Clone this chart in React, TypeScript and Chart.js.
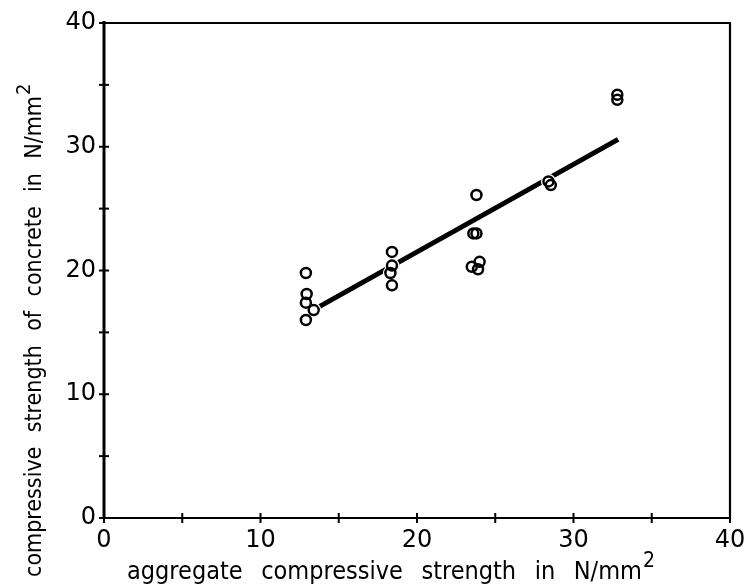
import React, { useEffect, useRef } from "react";
import { Chart, registerables } from "chart.js";

Chart.register(...registerables);

const pointX = [12.9, 12.95, 12.9, 13.4, 12.9, 18.4, 18.4, 18.3, 18.4, 23.8, 23.6, 23.8, 23.5, 23.9, 24.0, 28.4, 28.55, 32.8, 32.8];
const pointY = [19.8, 18.1, 17.4, 16.8, 16.0, 21.5, 20.4, 19.8, 18.8, 26.1, 23.0, 23.0, 20.3, 20.1, 20.7, 27.2, 26.9, 34.2, 33.8];
const lineX = [13.5, 32.85];
const lineY = [16.9, 30.6];
const axisMin = 0;
const axisMax = 40;
const xTitleWords = ["aggregate", "compressive", "strength", "in", "N/mm"];
const yTitleWords = ["compressive", "strength", "of", "concrete", "in", "N/mm"];
const unitSup = "2";

const FONT = '"DejaVu Sans", sans-serif';
const TITLE_FONT = '"DejaVu Sans Condensed", "DejaVu Sans", sans-serif';

function drawSpread(ctx: any, words: string[], start: number, end: number, base: number) {
  const widths = words.map((w) => ctx.measureText(w).width);
  const total = widths.reduce((a, b) => a + b, 0);
  const gap = (end - start - total) / (words.length - 1);
  let pos = start;
  words.forEach((w, i) => {
    ctx.fillText(w, pos, base);
    pos += widths[i] + gap;
  });
  return pos - gap;
}

const framePlugin = {
  id: "frame",
  afterDraw(chart: any) {
    const { ctx, chartArea, scales } = chart;
    const x = scales.x;
    const y = scales.y;
    ctx.save();
    ctx.strokeStyle = "#000";
    ctx.lineCap = "butt";
    ctx.lineWidth = 3;
    ctx.beginPath();
    ctx.moveTo(chartArea.left, chartArea.top - 2);
    ctx.lineTo(chartArea.left, chartArea.bottom);
    ctx.stroke();
    ctx.lineWidth = 2.2;
    ctx.beginPath();
    ctx.moveTo(chartArea.left, chartArea.bottom);
    ctx.lineTo(chartArea.right, chartArea.bottom);
    ctx.lineTo(chartArea.right, chartArea.top);
    ctx.lineTo(chartArea.left, chartArea.top);
    ctx.stroke();
    ctx.lineWidth = 2;
    for (let v = axisMin; v <= axisMax; v += 5) {
      const px = x.getPixelForValue(v);
      const py = y.getPixelForValue(v);
      ctx.beginPath();
      ctx.moveTo(px, chartArea.bottom - 5);
      ctx.lineTo(px, chartArea.bottom + 5);
      ctx.stroke();
      ctx.beginPath();
      ctx.moveTo(chartArea.left - 5, py);
      ctx.lineTo(chartArea.left + 5, py);
      ctx.stroke();
    }
    ctx.fillStyle = "#000";
    ctx.textBaseline = "alphabetic";
    ctx.textAlign = "left";

    ctx.font = "25px " + TITLE_FONT;
    const xe = drawSpread(ctx, xTitleWords, 127, 642, 579);
    ctx.font = "21px " + TITLE_FONT;
    ctx.fillText(unitSup, xe + 1, 567);

    ctx.save();
    ctx.translate(41, 0);
    ctx.rotate(-Math.PI / 2);
    ctx.font = "23px " + TITLE_FONT;
    const ye = drawSpread(ctx, yTitleWords, -577, -96, 0);
    ctx.font = "20px " + TITLE_FONT;
    ctx.fillText(unitSup, ye + 1, -11);
    ctx.restore();
    ctx.restore();
  },
};

export default function App() {
  const ref = useRef<HTMLCanvasElement | null>(null);
  useEffect(() => {
    if (!ref.current) return;
    const pts = pointX.map((v, i) => ({ x: v, y: pointY[i] }));
    const line = lineX.map((v, i) => ({ x: v, y: lineY[i] }));
    const chart = new Chart(ref.current, {
      type: "scatter",
      data: {
        datasets: [
          {
            type: "line",
            data: line,
            borderColor: "#000",
            borderWidth: 5,
            pointRadius: 0,
            showLine: true,
            order: 3,
          } as any,
          {
            data: pts,
            pointRadius: 7.5,
            pointBorderWidth: 0,
            pointBackgroundColor: "#fff",
            pointBorderColor: "#fff",
            order: 2,
          },
          {
            data: pts,
            pointRadius: 5,
            pointBorderWidth: 2.5,
            pointBackgroundColor: "rgba(0,0,0,0)",
            pointBorderColor: "#000",
            order: 1,
          },
        ],
      },
      options: {
        animation: false,
        responsive: false,
        layout: { padding: { top: 23, right: 14, left: 0, bottom: 0 } },
        plugins: { legend: { display: false }, tooltip: { enabled: false } },
        scales: {
          x: {
            type: "linear",
            min: axisMin,
            max: axisMax,
            grid: { display: false, drawTicks: false },
            border: { display: false },
            afterFit: (s: any) => {
              s.height = 68;
              s.paddingRight = 0;
              s.paddingLeft = 0;
            },
            ticks: {
              stepSize: 5,
              padding: 8,
              maxRotation: 0,
              color: "#000",
              font: { family: FONT, size: 24 },
              callback: (v: any) => (Number(v) % 10 === 0 ? String(v) : ""),
            },
          },
          y: {
            type: "linear",
            min: axisMin,
            max: axisMax,
            grid: { display: false, drawTicks: false },
            border: { display: false },
            afterFit: (s: any) => {
              s.width = 104;
            },
            ticks: {
              stepSize: 5,
              padding: 8,
              color: "#000",
              font: { family: FONT, size: 24 },
              callback: (v: any) => (Number(v) % 10 === 0 ? String(v) : ""),
            },
          },
        },
      },
      plugins: [framePlugin],
    });
    return () => chart.destroy();
  }, []);
  return (
    <div style={{ position: "fixed", left: 0, top: 0, width: 744, height: 586, background: "#fff" }}>
      <canvas ref={ref} width={744} height={586} style={{ width: 744, height: 586 }} />
    </div>
  );
}
